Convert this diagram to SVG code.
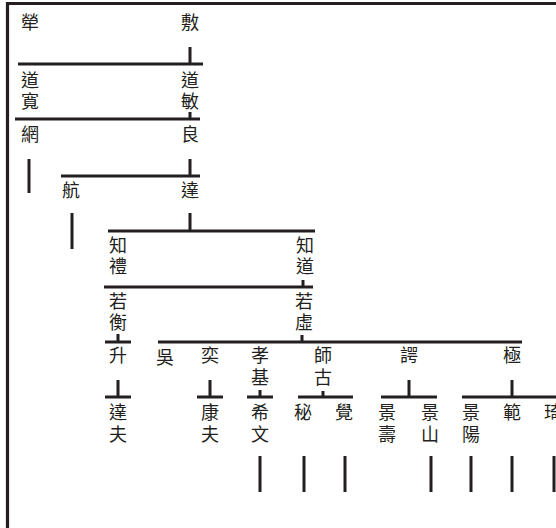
<svg xmlns="http://www.w3.org/2000/svg" width="556" height="528" viewBox="0 0 556 528">
<style>
.ln{stroke:#231f20;stroke-width:3;fill:none;stroke-linecap:butt}
.bd{stroke:#231f20;stroke-width:3.2;fill:none}
text{font-family:"Noto Sans CJK TC","Noto Sans CJK JP",sans-serif;font-size:18px;fill:#231f20;text-anchor:middle}
text.v{writing-mode:vertical-rl;text-anchor:start;letter-spacing:3px}
text.w{writing-mode:vertical-rl;text-anchor:start;letter-spacing:4px}
</style>
<rect width="556" height="528" fill="#ffffff"/>
<path class="bd" d="M7.5 528 V3.5 H556"/>
<g id="connectors">
<path class="ln" d="M190 47 V64 M18 64 H203"/>
<path class="ln" d="M190 112 V119 M15 119 H200"/>
<path class="ln" d="M29 159 V193"/>
<path class="ln" d="M190 159 V176 M61 176 H200"/>
<path class="ln" d="M72 213 V249"/>
<path class="ln" d="M190 213 V231 M108 231 H315"/>
<path class="ln" d="M303 280 V287 M104 287 H313"/>
<path class="ln" d="M118 334 V342 M105 342 H131"/>
<path class="ln" d="M302 335 V342 M158 342 H522"/>
<path class="ln" d="M118 380 V397 M105 397 H131"/>
<path class="ln" d="M210 380 V397 M197 397 H223"/>
<path class="ln" d="M260 390 V397 M247 397 H273"/>
<path class="ln" d="M323 391 V397 M298 397 H353"/>
<path class="ln" d="M409 380 V397 M381 397 H437"/>
<path class="ln" d="M512 380 V397 M462 397 H556"/>
<path class="ln" d="M260 456 V492 M304 456 V492 M345 456 V492 M431 456 V492 M471 456 V492 M512 456 V492 M554 456 V492"/>
</g>
<g id="n-luo"><text x="30" y="29">犖</text></g>
<g id="n-fu"><text x="190" y="29">敷</text></g>
<g id="n-daokuan"><text class="v" x="30" y="71">道寬</text></g>
<g id="n-daomin"><text class="v" x="190" y="71">道敏</text></g>
<g id="n-wang"><text x="30" y="141">網</text></g>
<g id="n-liang"><text x="190" y="141">良</text></g>
<g id="n-hang"><text x="71" y="197">航</text></g>
<g id="n-da"><text x="190" y="197">達</text></g>
<g id="n-zhili"><text class="v" x="118" y="236">知禮</text></g>
<g id="n-zhidao"><text class="v" x="305" y="236">知道</text></g>
<g id="n-ruoheng"><text class="v" x="118" y="292">若衡</text></g>
<g id="n-ruoxu"><text class="v" x="304" y="292">若虛</text></g>
<g id="n-sheng"><text x="118" y="362">升</text></g>
<g id="n-wu"><text x="165" y="364">吳</text></g>
<g id="n-yi"><text x="210" y="362">奕</text></g>
<g id="n-xiaoji"><text class="w" x="260" y="346">孝基</text></g>
<g id="n-shigu"><text class="w" x="323" y="346">師古</text></g>
<g id="n-e"><text x="409" y="362">諤</text></g>
<g id="n-ji"><text x="512" y="362">極</text></g>
<g id="n-dafu"><text class="w" x="118" y="403">達夫</text></g>
<g id="n-kangfu"><text class="w" x="210" y="403">康夫</text></g>
<g id="n-xiwen"><text class="w" x="260" y="403">希文</text></g>
<g id="n-mi"><text x="303" y="419">秘</text></g>
<g id="n-jue"><text x="344" y="419">覺</text></g>
<g id="n-jingshou"><text class="w" x="387" y="403">景壽</text></g>
<g id="n-jingshan"><text class="w" x="430" y="403">景山</text></g>
<g id="n-jingyang"><text class="w" x="471" y="403">景陽</text></g>
<g id="n-fan"><text x="512" y="419">範</text></g>
<g id="n-qi"><text x="553" y="419">琦</text></g>
</svg>
